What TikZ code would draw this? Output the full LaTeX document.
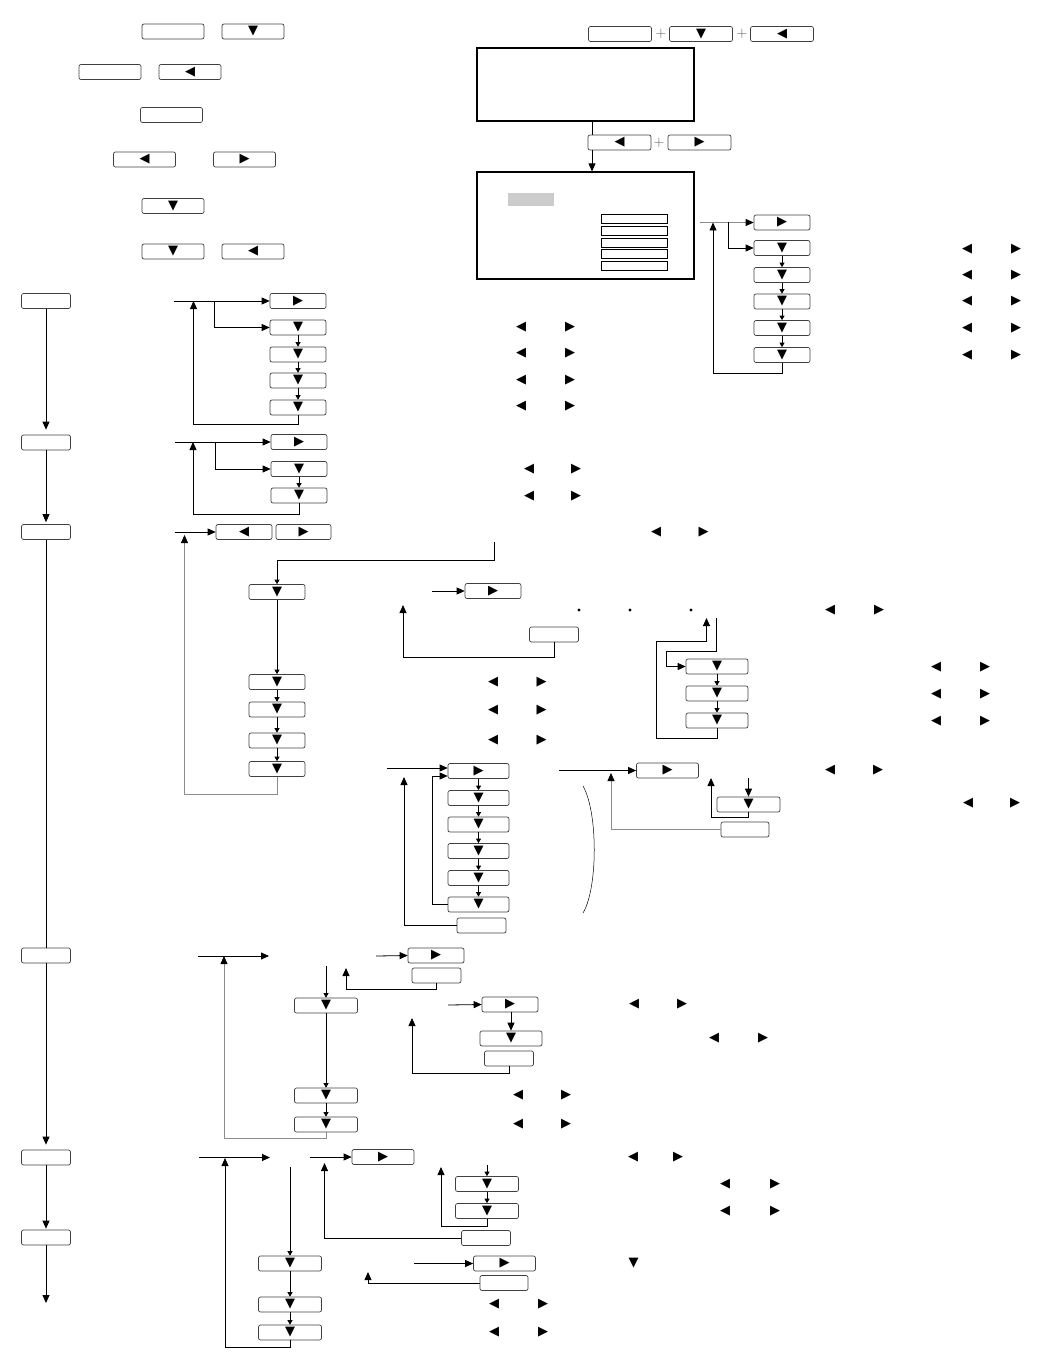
\documentclass[tikz,border=0pt]{standalone}
\usepackage{fontspec}
\newfontfamily\trifont{DejaVu Sans}
\usetikzlibrary{arrows.meta}
\newcommand\tpair[4]{\node[tri] (#1l) at (#3,#2) {◀}; \node[tri] (#1r) at (#4,#2) {▶};}
\begin{document}
\begin{tikzpicture}[x=1pt,y=-1pt,
  btn/.style={draw=black!75, line width=0.7pt, rounded corners=2pt, minimum width=#1, minimum height=15, inner sep=0pt, font=\trifont\fontsize{13}{13}\selectfont},
  btn/.default=56,
  tri/.style={inner sep=0pt, font=\trifont\fontsize{13}{13}\selectfont},
  ln/.style={line width=0.8pt, -{Triangle[length=8pt,width=7pt,color=black]}},
  sar/.style={line width=0.7pt, -{Triangle[length=4.5pt,width=5pt]}},
  pl/.style={line width=0.8pt},
  gl/.style={draw=black!45},
  plus/.style={inner sep=0pt, text=black!65, font=\fontsize{15}{15}\selectfont},
  dot/.style={circle, fill, inner sep=0pt, minimum size=3.2},
  lbox/.style={draw, line width=0.8pt, minimum width=66, minimum height=9, inner sep=0pt}]
\useasboundingbox (0,0) rectangle (1037,1356);

% ---------- legend ----------
\node[btn=62] (lg1a) at (173,31.5) {};
\node[btn=62] (lg1b) at (253,31.5) {▼};
\node[btn=62] (lg2a) at (110,72) {};
\node[btn=62] (lg2b) at (190,72) {◀};
\node[btn=62] (lg3) at (171.5,115) {};
\node[btn=62] (lg4a) at (144.5,159.5) {◀};
\node[btn=62] (lg4b) at (244.5,159.5) {▶};
\node[btn=62] (lg5) at (173,206) {▼};
\node[btn=62] (lg6a) at (173,251.5) {▼};
\node[btn=62] (lg6b) at (253,251.5) {◀};

% ---------- top right ----------
\node[btn=63] (t1) at (620,34) {};
\node[plus] (tp1) at (661,34) {+};
\node[btn=63] (t2) at (701,34) {▼};
\node[plus] (tp2) at (742,34) {+};
\node[btn=63] (t3) at (782,34) {◀};
\node[draw, line width=1.6pt, minimum width=217, minimum height=73, inner sep=0pt] (box1) at (585.5,84.5) {};
\node[btn=63] (p1) at (619.5,142.5) {◀};
\node[plus] (pp) at (659,142.5) {+};
\node[btn=63] (p2) at (699.5,142.5) {▶};
\node[draw, line width=1.2pt, minimum width=217, minimum height=107, inner sep=0pt] (box2) at (585.5,225.5) {};
\node[fill=black!20, minimum width=46, minimum height=13, inner sep=0pt] (grey) at (531,199.5) {};
\node[lbox] (sb1) at (634,218.5) {};
\node[lbox] (sb2) at (634,230.5) {};
\node[lbox] (sb3) at (634,242.5) {};
\node[lbox] (sb4) at (634,253.5) {};
\node[lbox] (sb5) at (634,265.5) {};
\draw[pl] ([xshift=6.5]box1.south) -- ([xshift=-27.5]p1.north);
\draw[ln] ([xshift=-27.5]p1.south) -- ([xshift=6.5]box2.north);

\node[btn] (R1) at (782,222.5) {▶};
\node[btn] (R2) at (782,248) {▼};
\node[btn] (R3) at (782,275) {▼};
\node[btn] (R4) at (782,301.5) {▼};
\node[btn] (R5) at (782,328) {▼};
\node[btn] (R6) at (782,355) {▼};
\coordinate (rs) at (700,222.5);
\coordinate (rb) at (728,222.5);
\coordinate (rr) at (713,222.5);
\draw[ln,gl] (rs) -- (R1.west);
\draw[ln] (rb) |- (R2.west);
\draw[sar] (R2) -- (R3);
\draw[sar] (R3) -- (R4);
\draw[sar] (R4) -- (R5);
\draw[sar] (R5) -- (R6);
\draw[ln] (R6.south) -- ++(0,11) -| (rr);
\tpair{rq2}{249}{967}{1016}
\tpair{rq3}{275.5}{967}{1016}
\tpair{rq4}{301.5}{967}{1016}
\tpair{rq5}{328}{967}{1016}
\tpair{rq6}{355}{967}{1016}

% ---------- left column ----------
\node[btn=49] (L1) at (46,301) {};
\node[btn=49] (L2) at (46,442.5) {};
\node[btn=49] (L3) at (46,532) {};
\node[btn=49] (L4) at (46,955.5) {};
\node[btn=49] (L5) at (46,1157.5) {};
\node[btn=49] (L6) at (46,1237.5) {};
\coordinate (lend) at (46,1303);
\draw[ln, shorten >=5pt] (L1) -- (L2);
\draw[ln, shorten >=2pt] (L2) -- (L3);
\draw[pl] (L3) -- (L4);
\draw[ln, shorten >=5pt] (L4) -- (L5);
\draw[ln, shorten >=1pt] (L5) -- (L6);
\draw[ln] (L6) -- (lend);

% ---------- section A ----------
\node[btn] (A1) at (298,301) {▶};
\node[btn] (A2) at (298,327.5) {▼};
\node[btn] (A3) at (298,354.5) {▼};
\node[btn] (A4) at (298,380.5) {▼};
\node[btn] (A5) at (298,407.5) {▼};
\coordinate (as) at (174,301);
\coordinate (ab) at (214,301);
\coordinate (ar) at (193.5,301);
\draw[ln] (as) -- (A1.west);
\draw[ln] (ab) |- (A2.west);
\draw[sar] (A2) -- (A3);
\draw[sar] (A3) -- (A4);
\draw[sar] (A4) -- (A5);
\draw[ln] (A5.south) -- ++(0,9) -| (ar);
\tpair{aq2}{327}{521}{570}
\tpair{aq3}{353.5}{521}{570}
\tpair{aq4}{380}{521}{570}
\tpair{aq5}{406}{521}{570}

% ---------- section B ----------
\node[btn] (B1) at (299,442) {▶};
\node[btn] (B2) at (299,469) {▼};
\node[btn] (B3) at (299,495.5) {▼};
\coordinate (bs) at (174.5,442);
\coordinate (bb) at (215.5,442);
\coordinate (br) at (193,442);
\draw[ln] (bs) -- (B1.west);
\draw[ln] (bb) |- (B2.west);
\draw[sar] (B2) -- (B3);
\draw[ln] (B3.south) -- ++(0,11) -| (br);
\tpair{bq2}{469}{529}{576}
\tpair{bq3}{496}{529}{576}

% ---------- section C / D ----------
\node[btn] (C1) at (244,532) {◀};
\node[btn=55] (C2) at (303.5,532) {▶};
\coordinate (cs) at (174.5,532);
\coordinate (cr) at (184.5,535);
\coordinate (cd) at (494,542);
\draw[ln] (cs) -- (C1.west);
\tpair{cq}{532}{656}{703.5}
\node[btn] (D1) at (277,592) {▼};
\node[btn] (D2) at (277,682) {▼};
\node[btn] (D3) at (277,709.5) {▼};
\node[btn] (D4) at (277,740.5) {▼};
\node[btn] (D5) at (277,769) {▼};
\draw[sar] (cd) -- ++(0,18) -| (D1.north);
\draw[sar] (D1) -- (D2);
\draw[sar] (D2) -- (D3);
\draw[sar] (D3) -- (D4);
\draw[sar] (D4) -- (D5);
\draw[ln,gl] (D5.south) -- ++(0,17.5) -| (cr);
\tpair{dq2}{682.5}{493}{541.5}
\tpair{dq3}{710.5}{493}{541.5}
\tpair{dq4}{740}{493}{541.5}

% ---------- section E ----------
\node[btn] (E1) at (493,591) {▶};
\node[btn=49] (E2) at (554,634.5) {};
\coordinate (es) at (432,591);
\coordinate (er) at (403,605);
\draw[ln] (es) -- (E1.west);
\draw[ln] (E2.south) -- ++(0,15) -| (er);
\node[dot] (dt1) at (579,610) {};
\node[dot] (dt2) at (630,610) {};
\node[dot] (dt3) at (691,610) {};
\tpair{eq}{610}{830}{879}

% ---------- section F ----------
\node[btn=62] (F1) at (717,666.5) {▼};
\node[btn=62] (F2) at (717,693.5) {▼};
\node[btn=62] (F3) at (717,720.5) {▼};
\coordinate (fu) at (706.5,618);
\coordinate (fe) at (716,618);
\draw[ln] (F3.south) -- ++(0,10) -- ++(-61,0) -- ++(0,-97) -| (fu);
\draw[ln] (fe) -- ++(0,33) -- ++(-50,0) |- (F1.west);
\draw[sar] (F1) -- (F2);
\draw[sar] (F2) -- (F3);
\tpair{fq1}{667}{936}{985}
\tpair{fq2}{694}{936}{985}
\tpair{fq3}{721}{936}{985}

% ---------- section G ----------
\node[btn=61] (G1) at (478.5,771) {▶};
\node[btn=61] (G2) at (478.5,798) {▼};
\node[btn=61] (G3) at (478.5,824.5) {▼};
\node[btn=61] (G4) at (478.5,851) {▼};
\node[btn=61] (G5) at (478.5,878) {▼};
\node[btn=61] (G6) at (478.5,904.5) {▼};
\node[btn=49] (G7) at (481.5,925.5) {};
\coordinate (gs) at (387,768);
\coordinate (gr) at (404,777);
\draw[ln] (gs) -- ([yshift=3]G1.west);
\draw[sar] (G1) -- (G2);
\draw[sar] (G2) -- (G3);
\draw[sar] (G3) -- (G4);
\draw[sar] (G4) -- (G5);
\draw[sar] (G5) -- (G6);
\draw[ln] (G6.west) -- ++(-15,0) |- ([yshift=-5]G1.west);
\draw[ln] (G7.west) -| (gr);
\draw[line width=0.5pt] (583,786) .. controls (598,812) and (598,888) .. (583,913);

% ---------- section H ----------
\node[btn=62] (H1) at (667.5,770.5) {▶};
\node[btn=63] (H2) at (748.5,804.5) {▼};
\node[btn=48] (H3) at (745,829.5) {};
\coordinate (hs) at (559,770.5);
\coordinate (hr) at (611,773);
\coordinate (hd) at (748.5,778);
\coordinate (hu) at (711,778);
\draw[ln] (hs) -- (H1.west);
\draw[ln,gl] (H3.west) -| (hr);
\draw[ln] (hd) -- (H2.north);
\draw[ln] (H2.south) -- ++(0,5) -| (hu);
\tpair{hq1}{770}{830}{878}
\tpair{hq2}{803}{968}{1015}

% ---------- section I / J / K ----------
\coordinate (is) at (198,956);
\coordinate (ie) at (269,956);
\coordinate (ir) at (224,956);
\draw[ln] (is) -- (ie);
\node[btn] (J1) at (436,955.5) {▶};
\node[btn=49] (J2) at (436.5,975.5) {};
\coordinate (js) at (376,956);
\coordinate (jr) at (346,968);
\draw[ln] (js) -- (J1.west);
\draw[ln] (J2.south) -- ++(0,6) -| (jr);
\node[btn=63] (I1) at (326,1005.5) {▼};
\node[btn=63] (I2) at (326,1095.5) {▼};
\node[btn=63] (I3) at (326,1124.5) {▼};
\coordinate (id) at (326,966);
\draw[sar] (id) -- (I1.north);
\draw[sar] (I1) -- (I2);
\draw[sar] (I2) -- (I3);
\draw[ln,gl] (I3.south) -- ++(0,6) -| (ir);
\tpair{iq2}{1095.5}{518}{566}
\tpair{iq3}{1124}{518}{566}
\node[btn] (K1) at (510,1004.5) {▶};
\node[btn=62] (K2) at (511,1038.5) {▼};
\node[btn=49] (K3) at (509,1058.5) {};
\coordinate (ks) at (448,1005);
\coordinate (kr) at (412,1018);
\draw[ln] (ks) -- (K1.west);
\draw[ln] (K1.south -| K2.north) -- (K2.north);
\draw[ln] (K3.south) -- ++(0,7) -| (kr);
\tpair{kq1}{1004.5}{634}{682}
\tpair{kq2}{1038.5}{714}{763}

% ---------- section M / N / O ----------
\coordinate (ls) at (199,1157.5);
\coordinate (le) at (270,1157.5);
\coordinate (lr) at (225,1158);
\draw[ln] (ls) -- (le);
\node[btn=62] (N1) at (383,1157) {▶};
\node[btn=63] (N2) at (487,1184) {▼};
\node[btn=63] (N3) at (487,1211) {▼};
\node[btn=49] (N4) at (486,1238) {};
\coordinate (ns) at (310,1157);
\coordinate (nr) at (324.5,1163);
\coordinate (nd) at (487,1165);
\coordinate (nu) at (441,1167);
\draw[ln] (ns) -- (N1.west);
\draw[ln] (N4.west) -| (nr);
\draw[sar] (nd) -- (N2.north);
\draw[sar] (N2) -- (N3);
\draw[ln] (N3.south) -- ++(0,7.5) -| (nu);
\tpair{nq1}{1157}{633}{678}
\tpair{nq2}{1184}{725}{775}
\tpair{nq3}{1211}{725}{775}
\node[btn=63] (M1) at (290,1263.5) {▼};
\node[btn=63] (M2) at (290,1304.5) {▼};
\node[btn=63] (M3) at (290,1332.5) {▼};
\coordinate (md) at (290,1167);
\draw[sar] (md) -- (M1.north);
\draw[sar] (M1) -- (M2);
\draw[sar] (M2) -- (M3);
\draw[ln] (M3.south) -- ++(0,7) -| (lr);
\tpair{mq2}{1304.5}{494}{543}
\tpair{mq3}{1332.5}{494}{543}
\node[btn=62] (O1) at (504.5,1263.5) {▶};
\node[btn=48] (O2) at (504,1283) {};
\coordinate (os) at (414,1263.5);
\coordinate (or) at (368,1272);
\draw[ln] (os) -- (O1.west);
\draw[ln] (O2.west) -| (or);
\node[tri] (oq) at (633.5,1263) {▼};
\end{tikzpicture}
\end{document}
